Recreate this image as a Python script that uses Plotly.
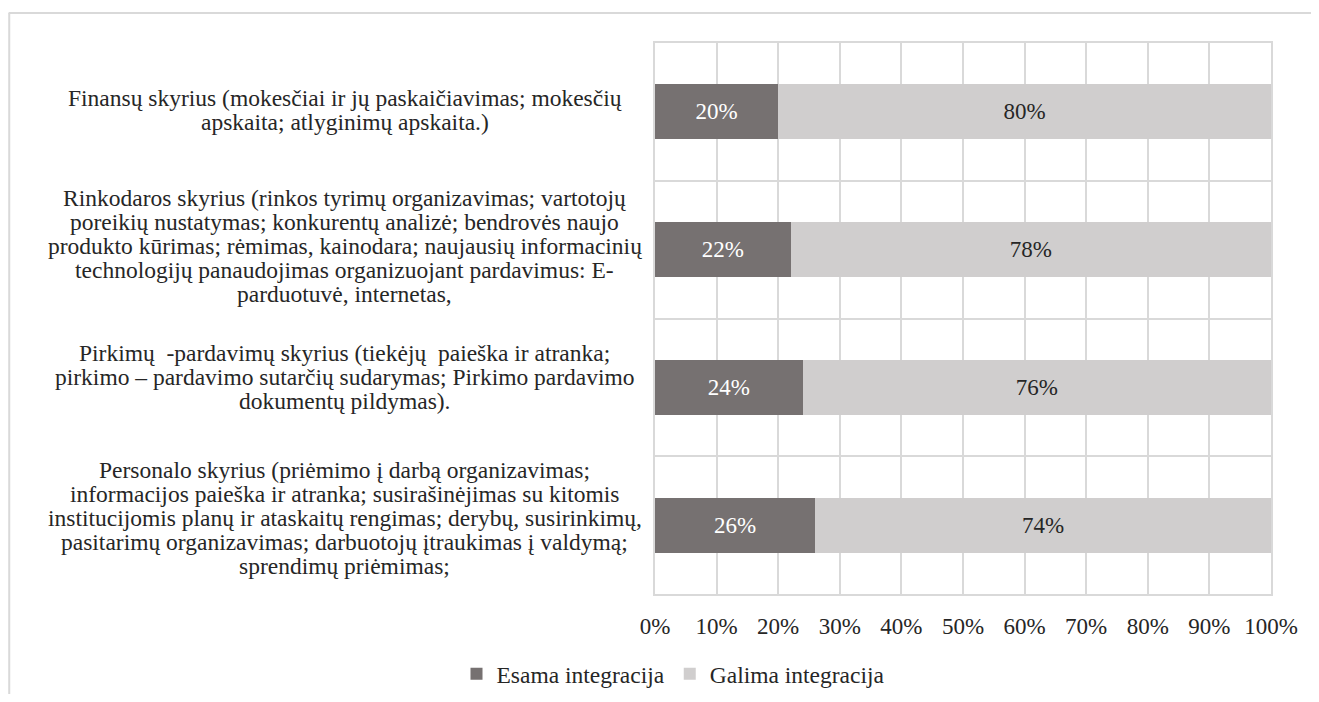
import plotly.graph_objects as go

categories = [
    "Finansų skyrius (mokesčiai ir jų paskaičiavimas; mokesčių<br>apskaita; atlyginimų apskaita.)",
    "Rinkodaros skyrius (rinkos tyrimų organizavimas; vartotojų<br>poreikių nustatymas; konkurentų analizė; bendrovės naujo<br>produkto kūrimas; rėmimas, kainodara; naujausių informacinių<br>technologijų panaudojimas organizuojant pardavimus: E-<br>parduotuvė, internetas,",
    "Pirkimų  -pardavimų skyrius (tiekėjų  paieška ir atranka;<br>pirkimo – pardavimo sutarčių sudarymas; Pirkimo pardavimo<br>dokumentų pildymas).",
    "Personalo skyrius (priėmimo į darbą organizavimas;<br>informacijos paieška ir atranka; susirašinėjimas su kitomis<br>institucijomis planų ir ataskaitų rengimas; derybų, susirinkimų,<br>pasitarimų organizavimas; darbuotojų įtraukimas į valdymą;<br>sprendimų priėmimas;",
]
esama = [20, 22, 24, 26]
galima = [80, 78, 76, 74]
series_names = ["Esama integracija", "Galima integracija"]
tick_vals = [0, 10, 20, 30, 40, 50, 60, 70, 80, 90, 100]
tick_text = [f"{v}%" for v in tick_vals]

FONT = "Liberation Serif"
FS = 23
FS_LABEL = 23.5
DARK = "#767171"
LIGHT = "#d0cece"
GRID = "#d9d9d9"
TXT = "#262626"

ypos = list(range(len(categories)))

fig = go.Figure()
fig.add_trace(go.Bar(
    y=ypos, x=esama, orientation="h", name=series_names[0],
    marker=dict(color=DARK, line=dict(width=0)),
    text=[f"{v}%" for v in esama], textposition="inside",
    insidetextanchor="middle",
    textfont=dict(color="white", size=FS, family=FONT),
))
fig.add_trace(go.Bar(
    y=ypos, x=galima, orientation="h", name=series_names[1],
    marker=dict(color=LIGHT, line=dict(width=0)),
    text=[f"{v}%" for v in galima], textposition="inside",
    insidetextanchor="middle",
    textfont=dict(color=TXT, size=FS, family=FONT),
))

W, H = 1303, 686
L, T, R, B = 647, 35, 40, 100
plot_w = W - L - R
plot_h = H - T - B

# category label layout (style only): line spacing and vertical nudge in px
LINE_H = 24
label_nudge = [2, 4, 10, 7]

annotations = []
for i, c in enumerate(categories):
    lines = c.split("<br>")
    n = len(lines)
    for j, ln in enumerate(lines):
        annotations.append(dict(
            x=-0.504, xref="paper", y=i, yref="y", text=ln, showarrow=False,
            xanchor="center", yanchor="middle", align="center",
            yshift=-(j - (n - 1) / 2) * LINE_H + label_nudge[i],
            font=dict(family=FONT, size=FS_LABEL, color=TXT),
        ))

fig.update_layout(
    barmode="stack",
    bargap=0.60,
    width=W, height=H,
    margin=dict(l=L, r=R, t=T, b=B, autoexpand=False),
    paper_bgcolor="white", plot_bgcolor="white",
    font=dict(family=FONT, size=FS, color=TXT),
    showlegend=True,
    legend=dict(
        orientation="h", x=(665.5 - L) / plot_w, xanchor="center",
        y=-(666 - (H - B)) / plot_h, yanchor="middle",
        bgcolor="rgba(0,0,0,0)",
        font=dict(family=FONT, size=FS_LABEL, color=TXT),
        itemwidth=30, traceorder="normal",
    ),
    xaxis=dict(
        range=[0, 100], tickvals=tick_vals, ticktext=tick_text,
        showgrid=True, gridcolor=GRID, gridwidth=2,
        showline=True, linecolor=GRID, linewidth=2, mirror=True,
        zeroline=False, ticks="", ticklabelstandoff=10,
        tickfont=dict(family=FONT, size=FS, color=TXT),
        fixedrange=True,
    ),
    yaxis=dict(
        range=[len(categories) - 0.5, -0.5],
        tick0=-0.5, dtick=1, showticklabels=False,
        showgrid=True, gridcolor=GRID, gridwidth=2,
        showline=True, linecolor=GRID, linewidth=2, mirror=True,
        zeroline=False, ticks="", fixedrange=True,
    ),
    annotations=annotations,
    shapes=[
        dict(type="line", xref="paper", yref="paper",
             x0=-L / plot_w + 0.001, x1=2, y0=1 + (T - 5) / plot_h, y1=1 + (T - 5) / plot_h,
             line=dict(color=GRID, width=2)),
        dict(type="line", xref="paper", yref="paper",
             x0=-L / plot_w + 0.002, x1=-L / plot_w + 0.002, y0=1 + (T - 5) / plot_h, y1=-1,
             line=dict(color=GRID, width=2)),
    ],
)

fig.write_html("out.html")
